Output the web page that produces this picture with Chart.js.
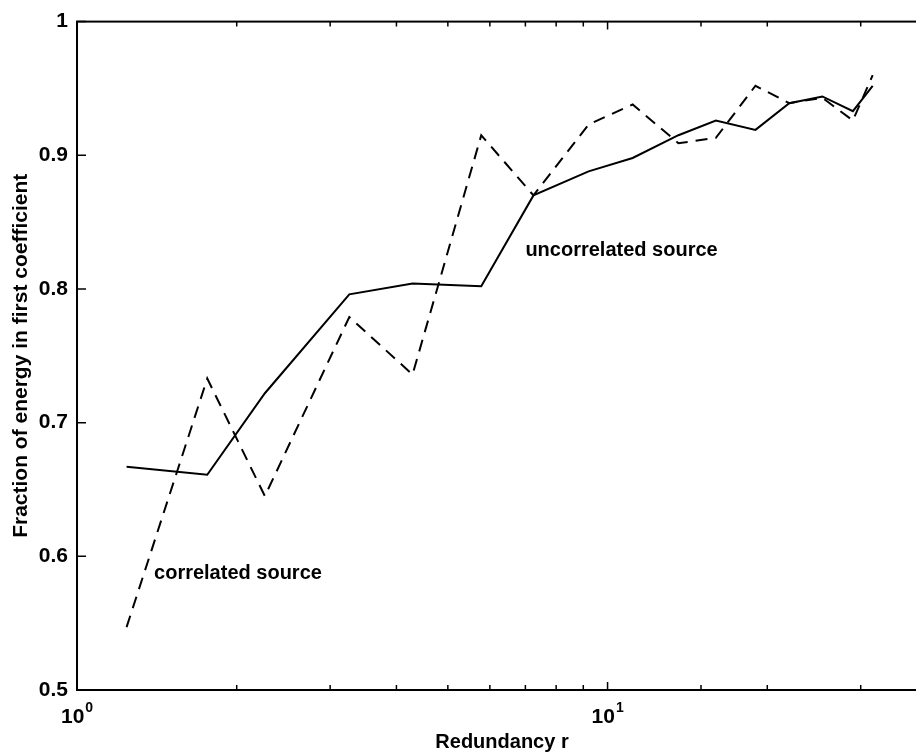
<!DOCTYPE html>
<html>
<head>
<meta charset="utf-8">
<script src="https://cdn.jsdelivr.net/npm/chart.js@4.4.1/dist/chart.umd.min.js"></script>
<style>
  html, body { margin: 0; padding: 0; background: #fff; overflow: hidden; }
  #wrap { width: 916px; height: 754px; overflow: hidden; }
</style>
</head>
<body>
<div id="wrap"><canvas id="energyChart" width="940" height="754"></canvas></div>
<script>
// redundancy r (log axis) and fraction of energy in first coefficient
const redundancy = [1.24, 1.76, 2.26, 3.26, 4.29, 5.78, 7.25, 9.21, 11.15, 13.6, 16.0, 19.0, 22.0, 25.4, 29.0, 31.6];
const uncorrelated = [0.667, 0.661, 0.722, 0.796, 0.804, 0.802, 0.870, 0.888, 0.898, 0.915, 0.926, 0.919, 0.939, 0.944, 0.933, 0.952];
const correlated = [0.547, 0.733, 0.645, 0.779, 0.736, 0.915, 0.870, 0.923, 0.938, 0.909, 0.913, 0.952, 0.939, 0.943, 0.926, 0.960];

const xLabels = { 1: '0', 10: '1' };   // exponents shown under 10
const yTickValues = [0.5, 0.6, 0.7, 0.8, 0.9, 1];

// text labels placed in data coordinates
const notes = [
    { text: 'uncorrelated source', r: 7.0, v: 0.8244 },
    { text: 'correlated source', r: 1.397, v: 0.5833 }
];

const FONT = '"Liberation Sans", Arial, Helvetica, sans-serif';

const toPoints = (ys) => redundancy.map((r, i) => ({ x: r, y: ys[i] }));

const matlabAxes = {
    id: 'matlabAxes',
    afterDraw(chart) {
        const ctx = chart.ctx;
        const area = chart.chartArea;
        const xs = chart.scales.x;
        const ys = chart.scales.y;
        ctx.save();
        ctx.strokeStyle = '#000';
        ctx.lineWidth = 2;
        ctx.strokeRect(area.left, area.top, area.right - area.left, area.bottom - area.top);

        // x ticks, inward, bottom and top
        ctx.lineWidth = 1.5;
        xs.ticks.forEach(t => {
            const px = xs.getPixelForValue(t.value);
            const len = (t.value === 1 || t.value === 10) ? 8 : 5;
            ctx.beginPath();
            ctx.moveTo(px, area.bottom);
            ctx.lineTo(px, area.bottom - len);
            ctx.moveTo(px, area.top);
            ctx.lineTo(px, area.top + len);
            ctx.stroke();
        });
        // y ticks, inward, left and right
        yTickValues.forEach(v => {
            const py = ys.getPixelForValue(v);
            ctx.beginPath();
            ctx.moveTo(area.left, py);
            ctx.lineTo(area.left + 9, py);
            ctx.moveTo(area.right, py);
            ctx.lineTo(area.right - 9, py);
            ctx.stroke();
        });

        // x tick labels 10^n
        ctx.fillStyle = '#000';
        ctx.textBaseline = 'alphabetic';
        ctx.textAlign = 'left';
        Object.keys(xLabels).forEach(k => {
            const px = xs.getPixelForValue(Number(k));
            ctx.font = 'bold 21px ' + FONT;
            const w = ctx.measureText('10').width;
            ctx.fillText('10', px - 16, area.bottom + 33);
            ctx.font = 'bold 14px ' + FONT;
            ctx.fillText(xLabels[k], px - 16 + w + 1, area.bottom + 22);
        });

        // annotations
        ctx.font = 'bold 20px ' + FONT;
        notes.forEach(n => {
            ctx.fillText(n.text, xs.getPixelForValue(n.r), ys.getPixelForValue(n.v));
        });
        ctx.restore();
    }
};

new Chart(document.getElementById('energyChart'), {
    type: 'line',
    data: {
        datasets: [
            {
                label: 'uncorrelated source',
                data: toPoints(uncorrelated),
                borderColor: '#000',
                borderWidth: 2,
                pointRadius: 0,
                tension: 0
            },
            {
                label: 'correlated source',
                data: toPoints(correlated),
                borderColor: '#000',
                borderWidth: 2,
                borderDash: [12, 8],
                pointRadius: 0,
                tension: 0
            }
        ]
    },
    options: {
        responsive: false,
        animation: false,
        devicePixelRatio: 1,
        layout: { padding: { top: 18, right: 13, left: 0, bottom: 0 } },
        plugins: { legend: { display: false }, tooltip: { enabled: false } },
        scales: {
            x: {
                type: 'logarithmic',
                min: 1,
                max: 40,
                grid: { display: false, drawTicks: false },
                border: { display: false },
                ticks: { display: false, autoSkip: false },
                title: {
                    display: true,
                    text: 'Redundancy r',
                    color: '#000',
                    font: { family: FONT, size: 20, weight: 'bold' },
                    padding: 0
                },
                afterFit: (scale) => { scale.height = 64; }
            },
            y: {
                min: 0.5,
                max: 1,
                grid: { display: false, drawTicks: false },
                border: { display: false },
                ticks: {
                    stepSize: 0.1,
                    padding: 9,
                    color: '#000',
                    font: { family: FONT, size: 21, weight: 'bold' },
                    callback: (v) => (Math.abs(v - 1) < 1e-9 ? '1' : v.toFixed(1))
                },
                title: {
                    display: true,
                    text: 'Fraction of energy in first coefficient',
                    color: '#000',
                    font: { family: FONT, size: 21, weight: 'bold' },
                    padding: { top: 9, bottom: 0 }
                },
                afterFit: (scale) => { scale.width = 77; }
            }
        }
    },
    plugins: [matlabAxes]
});
</script>
</body>
</html>
